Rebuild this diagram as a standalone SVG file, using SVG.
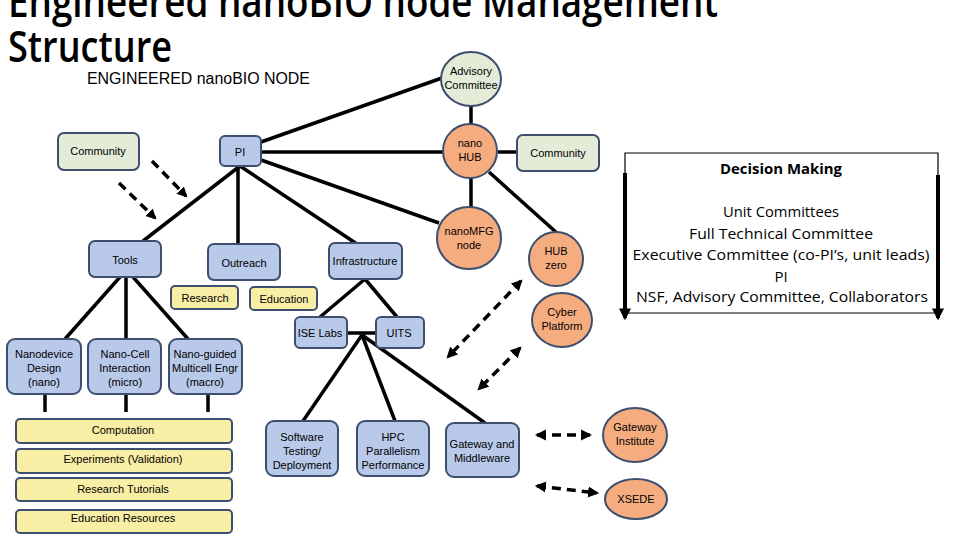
<svg xmlns="http://www.w3.org/2000/svg" width="960" height="540" viewBox="0 0 960 540">
<defs>
<style>
.t{font-family:"Liberation Sans",Arial,sans-serif;font-size:11px;fill:#000;text-anchor:middle}
.blue{fill:#b9c9e9;stroke:#3d4e6e;stroke-width:2}
.yel{fill:#f9eea6;stroke:#3d4e6e;stroke-width:2}
.grn{fill:#e4ecd8;stroke:#3d4e6e;stroke-width:2}
.org{fill:#f5ad80;stroke:#3d4e6e;stroke-width:2}
.ln{stroke:#000;stroke-width:3.5;fill:none}
.dash{stroke:#000;stroke-width:3.5;fill:none;stroke-dasharray:9 6}
.dm{font-family:"Open Sans","Liberation Sans",sans-serif;font-size:15px;text-anchor:middle;fill:#000}
.title{font-family:"Open Sans","Liberation Sans",sans-serif;font-size:43px;font-weight:600;fill:#000}
</style>
<marker id="ah" viewBox="0 0 10 10" refX="8" refY="5" markerWidth="3.2" markerHeight="3.2" orient="auto-start-reverse" markerUnits="strokeWidth">
<path d="M0,0 L10,5 L0,10 z" fill="#000"/>
</marker>
<marker id="ah2" viewBox="0 0 10 10" refX="8" refY="5" markerWidth="3" markerHeight="3" orient="auto" markerUnits="strokeWidth">
<path d="M0,0 L10,5 L0,10 z" fill="#000"/>
</marker>
</defs>
<rect width="960" height="540" fill="#fff"/>

<text class="title" x="8" y="17" textLength="710" lengthAdjust="spacingAndGlyphs">Engineered nanoBIO node Management</text>
<text class="title" x="8" y="62" textLength="164" lengthAdjust="spacingAndGlyphs">Structure</text>
<text x="87" y="84" font-family="'Liberation Sans',Arial,sans-serif" font-size="16" textLength="223" lengthAdjust="spacingAndGlyphs" fill="#000">ENGINEERED nanoBIO NODE</text>

<g id="connectors">
<line class="ln" x1="261" y1="142" x2="442" y2="78"/>
<line class="ln" x1="261" y1="152" x2="443" y2="152"/>
<line class="ln" x1="261" y1="160" x2="439" y2="223"/>
<line class="ln" x1="471" y1="106" x2="471" y2="124"/>
<line class="ln" x1="498" y1="152" x2="517" y2="152"/>
<line class="ln" x1="471" y1="178" x2="471" y2="207"/>
<line class="ln" x1="489" y1="172" x2="557" y2="233"/>
<line class="ln" x1="240" y1="166" x2="143" y2="241"/>
<line class="ln" x1="238" y1="166" x2="238" y2="244"/>
<line class="ln" x1="240" y1="166" x2="357" y2="244"/>
<line class="ln" x1="365" y1="279" x2="320" y2="317"/>
<line class="ln" x1="365" y1="279" x2="397" y2="317"/>
<line class="ln" x1="347" y1="333" x2="376" y2="333"/>
<line class="ln" x1="362" y1="335" x2="303" y2="421"/>
<line class="ln" x1="362" y1="335" x2="395" y2="421"/>
<line class="ln" x1="362" y1="335" x2="485" y2="423"/>
<line class="ln" x1="120" y1="277" x2="65" y2="339"/>
<line class="ln" x1="126" y1="277" x2="126" y2="339"/>
<line class="ln" x1="133" y1="277" x2="188" y2="339"/>
<line class="ln" x1="45" y1="394" x2="45" y2="412"/>
<line class="ln" x1="126" y1="394" x2="126" y2="412"/>
<line class="ln" x1="208" y1="394" x2="208" y2="412"/>
<line class="dash" x1="152" y1="161" x2="186" y2="196" marker-end="url(#ah2)"/>
<line class="dash" x1="119" y1="183" x2="155" y2="218" marker-end="url(#ah2)"/>
<line class="dash" x1="521" y1="281" x2="448" y2="357" marker-start="url(#ah)" marker-end="url(#ah)"/>
<line class="dash" x1="520" y1="348" x2="479" y2="389" marker-start="url(#ah)" marker-end="url(#ah)"/>
<line class="dash" x1="537" y1="435" x2="590" y2="435" marker-start="url(#ah)" marker-end="url(#ah)"/>
<line class="dash" x1="537" y1="486" x2="597" y2="493" marker-start="url(#ah)" marker-end="url(#ah)"/>
</g>

<g id="advisory"><ellipse class="grn" cx="471" cy="79" rx="30" ry="27"/><text class="t" x="471" y="75" font-size="10.5">Advisory</text><text class="t" x="471" y="89" font-size="10.5">Committee</text></g>
<g id="nanohub"><circle class="org" cx="470" cy="151" r="27"/><text class="t" x="470" y="147">nano</text><text class="t" x="470" y="161">HUB</text></g>
<g id="community-right"><rect class="grn" x="517" y="135" width="82" height="36" rx="6"/><text class="t" x="558" y="157">Community</text></g>
<g id="nanomfg"><ellipse class="org" cx="469" cy="238" rx="32" ry="31"/><text class="t" x="469" y="235">nanoMFG</text><text class="t" x="469" y="249">node</text></g>
<g id="hubzero"><circle class="org" cx="556" cy="259" r="27"/><text class="t" x="556" y="255">HUB</text><text class="t" x="556" y="269">zero</text></g>
<g id="cyber"><ellipse class="org" cx="562" cy="320" rx="30" ry="27"/><text class="t" x="562" y="316">Cyber</text><text class="t" x="562" y="330">Platform</text></g>
<g id="gateway-institute"><ellipse class="org" cx="635" cy="435" rx="32" ry="27"/><text class="t" x="635" y="431">Gateway</text><text class="t" x="635" y="445">Institute</text></g>
<g id="xsede"><ellipse class="org" cx="636" cy="499" rx="31" ry="20"/><text class="t" x="636" y="503">XSEDE</text></g>

<g id="community-left"><rect class="grn" x="58" y="133" width="81" height="37" rx="6"/><text class="t" x="98" y="155">Community</text></g>
<g id="pi"><rect class="blue" x="220" y="136" width="41" height="30" rx="5"/><text class="t" x="240" y="156">PI</text></g>
<g id="tools"><rect class="blue" x="89" y="241" width="72" height="36" rx="6"/><text class="t" x="125" y="264">Tools</text></g>
<g id="outreach"><rect class="blue" x="208" y="244" width="72" height="36" rx="6"/><text class="t" x="244" y="267">Outreach</text></g>
<g id="research"><rect class="yel" x="171" y="286" width="67" height="23" rx="4"/><text class="t" x="205" y="302">Research</text></g>
<g id="education"><rect class="yel" x="250" y="287" width="67" height="23" rx="4"/><text class="t" x="284" y="303">Education</text></g>
<g id="infrastructure"><rect class="blue" x="329" y="243" width="73" height="36" rx="6"/><text class="t" x="365" y="265">Infrastructure</text></g>
<g id="iselabs"><rect class="blue" x="295" y="317" width="52" height="31" rx="5"/><text class="t" x="320" y="337">ISE Labs</text></g>
<g id="uits"><rect class="blue" x="376" y="317" width="48" height="31" rx="5"/><text class="t" x="399" y="337">UITS</text></g>
<g id="software"><rect class="blue" x="266" y="421" width="72" height="55" rx="8"/><text class="t" x="302" y="441">Software</text><text class="t" x="302" y="455">Testing/</text><text class="t" x="302" y="469">Deployment</text></g>
<g id="hpc"><rect class="blue" x="357" y="421" width="72" height="55" rx="8"/><text class="t" x="393" y="441">HPC</text><text class="t" x="393" y="455">Parallelism</text><text class="t" x="393" y="469">Performance</text></g>
<g id="gateway-middleware"><rect class="blue" x="446" y="423" width="73" height="54" rx="8"/><text class="t" x="482" y="448">Gateway and</text><text class="t" x="482" y="462">Middleware</text></g>
<g id="nanodevice"><rect class="blue" x="7" y="339" width="74" height="55" rx="8"/><text class="t" x="44" y="358">Nanodevice</text><text class="t" x="44" y="372">Design</text><text class="t" x="44" y="386">(nano)</text></g>
<g id="nanocell"><rect class="blue" x="88" y="339" width="73" height="55" rx="8"/><text class="t" x="125" y="358">Nano-Cell</text><text class="t" x="125" y="372">Interaction</text><text class="t" x="125" y="386">(micro)</text></g>
<g id="nanoguided"><rect class="blue" x="169" y="339" width="73" height="55" rx="8"/><text class="t" x="205" y="358">Nano-guided</text><text class="t" x="205" y="372">Multicell Engr</text><text class="t" x="205" y="386">(macro)</text></g>
<g id="computation"><rect class="yel" x="16" y="419" width="216" height="24" rx="4"/><text class="t" x="123" y="434">Computation</text></g>
<g id="experiments"><rect class="yel" x="16" y="449" width="216" height="24" rx="4"/><text class="t" x="123" y="463">Experiments (Validation)</text></g>
<g id="tutorials"><rect class="yel" x="16" y="478" width="216" height="23" rx="4"/><text class="t" x="123" y="493">Research Tutorials</text></g>
<g id="eduresources"><rect class="yel" x="16" y="510" width="216" height="23" rx="4"/><text class="t" x="123" y="522">Education Resources</text></g>

<g id="decision-making">
<polyline points="625,175 625,153 938,153 938,175" fill="none" stroke="#000" stroke-width="1.2"/>
<line x1="625" y1="313" x2="938" y2="313" stroke="#000" stroke-width="1.2"/>
<line x1="625" y1="173" x2="625" y2="318" stroke="#000" stroke-width="4" marker-end="url(#ah2)"/>
<line x1="938" y1="175" x2="938" y2="318" stroke="#000" stroke-width="4" marker-end="url(#ah2)"/>
<text class="dm" x="781" y="174" font-weight="bold" textLength="122" lengthAdjust="spacingAndGlyphs">Decision Making</text>
<text class="dm" x="781" y="217" textLength="116" lengthAdjust="spacingAndGlyphs">Unit Committees</text>
<text class="dm" x="781" y="239" textLength="184" lengthAdjust="spacingAndGlyphs">Full Technical Committee</text>
<text class="dm" x="781" y="260" textLength="297" lengthAdjust="spacingAndGlyphs">Executive Committee (co-PI’s, unit leads)</text>
<text class="dm" x="781" y="282">PI</text>
<text class="dm" x="782" y="302" textLength="292" lengthAdjust="spacingAndGlyphs">NSF, Advisory Committee, Collaborators</text>
</g>
</svg>
